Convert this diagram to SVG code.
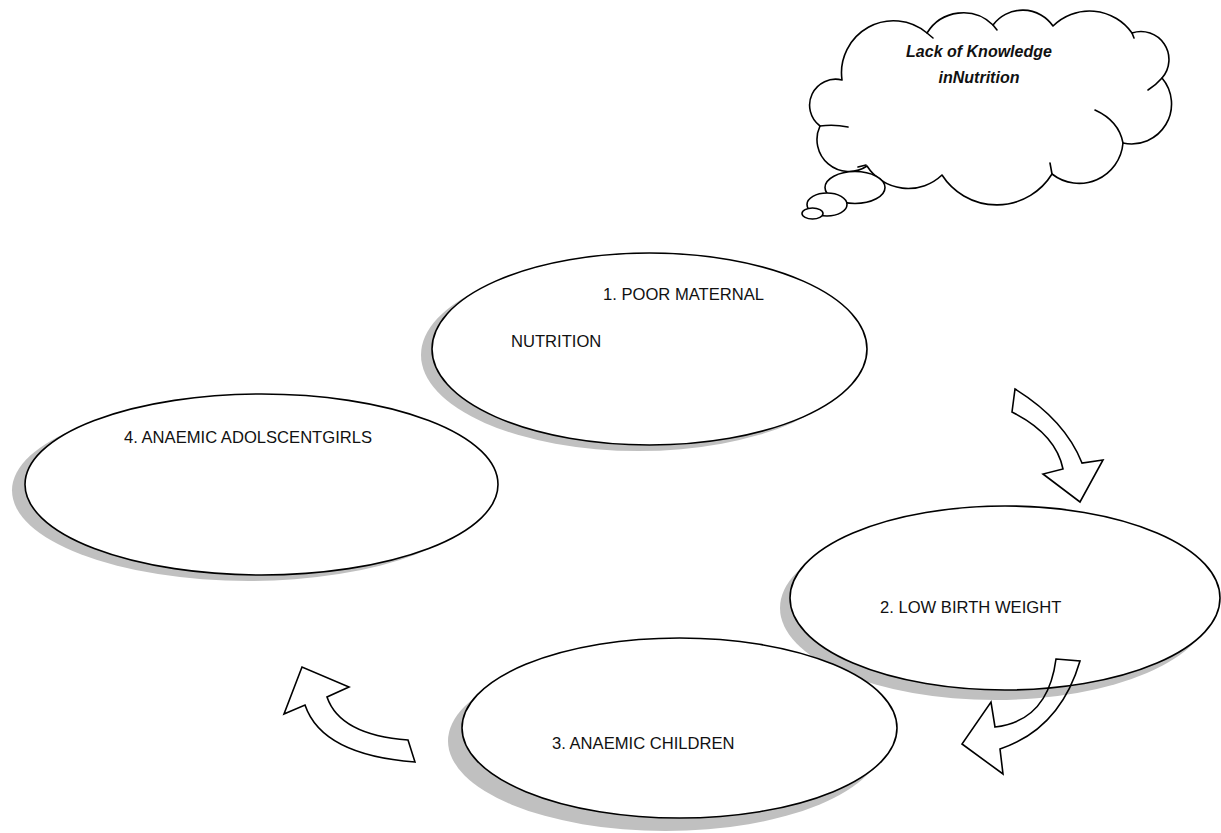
<svg xmlns="http://www.w3.org/2000/svg" width="1221" height="833" viewBox="0 0 1221 833">
<style>
.shadow{fill:#c0c0c0;stroke:none}
.node{fill:#fff;stroke:#000;stroke-width:1.6}
.lbl{font-family:"Liberation Sans",Arial,sans-serif;font-size:16.6px;fill:#111}
.cl{fill:#fff;stroke:#000;stroke-width:1.6;stroke-linejoin:round}
.tick{fill:none;stroke:#000;stroke-width:1.6;stroke-linecap:round}
.ctext{font-family:"Liberation Sans",Arial,sans-serif;font-size:16px;font-weight:bold;font-style:italic;fill:#111;text-anchor:middle}
.arrow{fill:none;stroke:#000;stroke-width:1.6;stroke-linejoin:miter}
</style>
<rect width="1221" height="833" fill="#fff"/>

<g id="cloud">
<path class="cl" d="M820,126 A26,26 0 0 1 842,80 A52,52 0 0 1 927,33 A42.5,42.5 0 0 1 993,25 A37,37 0 0 1 1053,26 A52,52 0 0 1 1132,33 A28,28 0 0 1 1162,78 A40,40 0 0 1 1123,143 A44,44 0 0 1 1052,174 A65,65 0 0 1 942,175 A49,49 0 0 1 867,166 A32,32 0 0 1 820,126 Z"/>
<path class="tick" d="M820,126 Q834,124 848,127"/>
<path class="tick" d="M1095,110 Q1119,121 1123,143"/>
<path class="tick" d="M1162,78 Q1156,85 1148,90"/>
<path class="tick" d="M1052,174 L1050,163"/>
<path class="tick" d="M1132,33 L1134,38"/>
<path class="tick" d="M993,25 L997,30"/>
<path class="tick" d="M927,33 L933,38"/>
<path class="tick" d="M858,167 L866,165"/>
<ellipse class="cl" cx="855" cy="187.5" rx="30" ry="16"/>
<ellipse class="cl" cx="827" cy="204.5" rx="20" ry="11.5"/>
<ellipse class="cl" cx="812.5" cy="213.5" rx="10.5" ry="5.5"/>
<text class="ctext" x="979" y="57">Lack of Knowledge</text>
<text class="ctext" x="979" y="83">inNutrition</text>
</g>

<g id="node1">
<ellipse class="shadow" cx="638.5" cy="355" rx="217.5" ry="96"/>
<ellipse class="node" cx="649.5" cy="349" rx="217.5" ry="96"/>
<text class="lbl" x="603" y="300">1. POOR MATERNAL</text>
<text class="lbl" x="511" y="347">NUTRITION</text>
</g>

<g id="node4">
<ellipse class="shadow" cx="248.5" cy="490.5" rx="236.5" ry="90.5"/>
<ellipse class="node" cx="261.5" cy="484.5" rx="236.5" ry="90.5"/>
<text class="lbl" x="124" y="443">4. ANAEMIC ADOLSCENTGIRLS</text>
</g>

<g id="node2">
<ellipse class="shadow" cx="995" cy="608" rx="215" ry="92"/>
<ellipse class="node" cx="1005" cy="598" rx="215" ry="92"/>
<text class="lbl" x="880" y="613">2. LOW BIRTH WEIGHT</text>
</g>

<g id="node3">
<ellipse class="shadow" cx="665.5" cy="741" rx="217.5" ry="90"/>
<ellipse class="node" cx="679.5" cy="728" rx="217.5" ry="90"/>
<text class="lbl" x="552" y="749">3. ANAEMIC CHILDREN</text>
</g>

<g id="connectors">
<path class="arrow" d="M1015,389 Q1065,420 1082,463 L1103,460 L1080,502 L1043,474 L1063,469 Q1056,434 1012,412 Z"/>
<path class="arrow" d="M1056,659 L1080,661 Q1060,729 1000,749 L1003,774 L962,744 L991,702 L995,727 Q1048,721 1056,659 Z"/>
<path class="arrow" d="M408,740 Q340,735 327,697 L349,687 L302,667 L284,714 L305,705 Q322,755 415,762 Z"/>
</g>
</svg>
